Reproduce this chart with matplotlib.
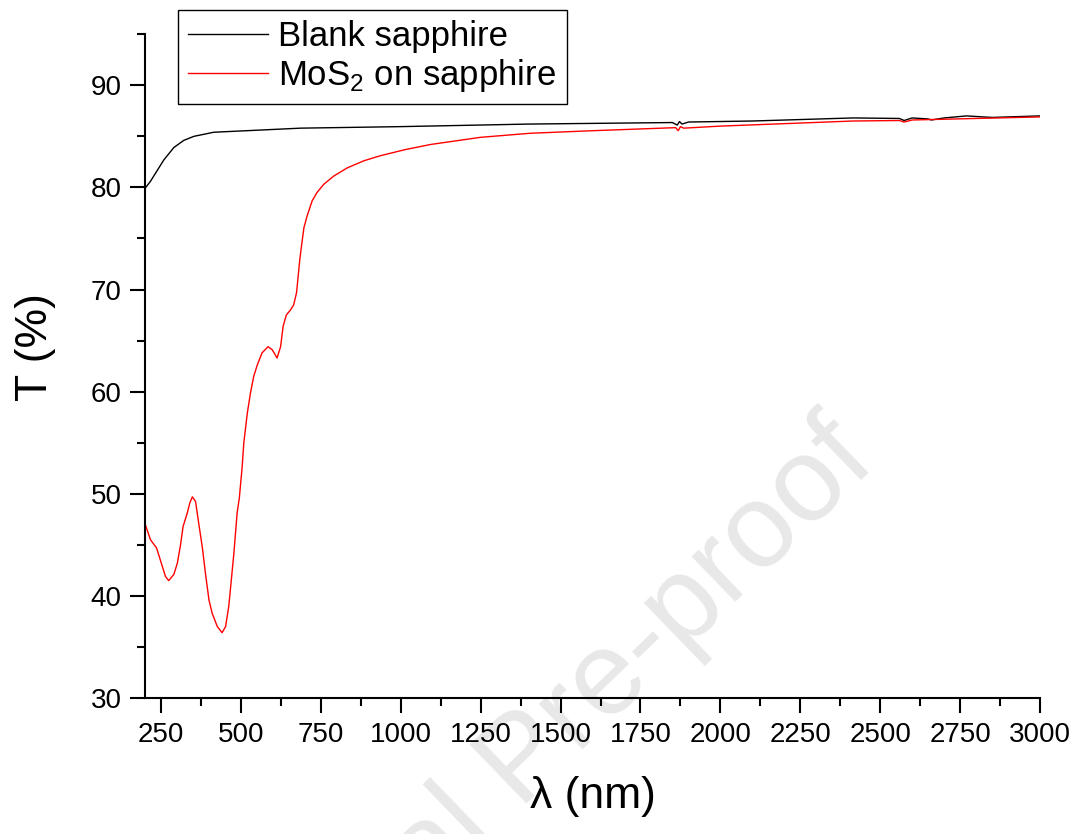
import numpy as np
import matplotlib
matplotlib.use("Agg")
import matplotlib.pyplot as plt
from matplotlib.ticker import MultipleLocator

plt.rcParams['font.family'] = ['Liberation Sans', 'DejaVu Sans']
plt.rcParams['mathtext.fontset'] = 'custom'
plt.rcParams['mathtext.rm'] = 'Liberation Sans'

# data
blank_x = [200, 217, 233, 259, 290, 321, 353, 415, 551, 686, 1000, 1400, 1850,
           1865, 1872, 1880, 1900, 2100, 2415, 2560, 2575, 2600, 2650, 2660,
           2700, 2770, 2850, 3000]
blank_y = [79.9, 80.6, 81.4, 82.7, 83.9, 84.6, 85.0, 85.4, 85.6, 85.8, 85.95,
           86.2, 86.35, 86.1, 86.45, 86.2, 86.4, 86.5, 86.8, 86.75, 86.55, 86.8,
           86.7, 86.6, 86.8, 87.0, 86.85, 87.0]

mos2_x = [201, 217, 236, 248, 264, 274, 290, 301, 311, 319, 332, 340, 348, 358,
          368, 379, 389, 400, 410, 426, 441, 452, 462, 478, 488, 495, 504, 509,
          520, 530, 540, 551, 566, 585, 598, 613, 624, 632, 642, 655, 665, 674,
          679, 684, 688, 697, 707, 723, 738, 759, 790, 832, 884, 936, 1014,
          1093, 1249, 1405, 1600, 1860, 1868, 1875, 1885, 2000, 2415, 2560,
          2575, 2600, 3000]
mos2_y = [46.96, 45.5, 44.7, 43.5, 41.9, 41.5, 42.1, 43.2, 45.0, 46.8, 48.1,
          49.1, 49.7, 49.25, 47.1, 44.8, 42.2, 39.6, 38.3, 37.0, 36.4, 37.0,
          39.0, 44.2, 48.1, 49.6, 52.7, 55.0, 57.9, 59.9, 61.5, 62.6, 63.8, 64.4,
          64.1, 63.3, 64.4, 66.4, 67.5, 68.0, 68.5, 69.7, 71.3, 72.9, 73.9,
          76.05, 77.2, 78.7, 79.5, 80.3, 81.1, 81.9, 82.6, 83.1, 83.7, 84.2,
          84.9, 85.3, 85.55, 85.85, 85.55, 85.95, 85.8, 86.0, 86.5, 86.55, 86.4,
          86.6, 86.9]

fig = plt.figure(figsize=(10.8, 8.34), dpi=100)
ax = fig.add_axes([0.1343, 0.163, 0.8287, 0.796])
ax.set_zorder(1)

# watermark
fig.text(0.486, 0.085, 'Journal Pre-proof', fontsize=86, color='#e8e8e8',
         rotation=44, rotation_mode='anchor', ha='center', va='center', zorder=0)

ax.plot(blank_x, blank_y, color='black', lw=1.0, label='Blank sapphire')
ax.plot(mos2_x, mos2_y, color='red', lw=1.0, label=r'MoS$_\mathregular{2}$ on sapphire')

ax.set_xlim(200, 3000)
ax.set_ylim(30, 95)
ax.xaxis.set_major_locator(MultipleLocator(250))
ax.xaxis.set_minor_locator(MultipleLocator(125))
ax.yaxis.set_major_locator(MultipleLocator(10))
ax.yaxis.set_minor_locator(MultipleLocator(5))
ax.set_xticks(np.arange(250, 3001, 250))

ax.spines['top'].set_visible(False)
ax.spines['right'].set_visible(False)
ax.spines['left'].set_linewidth(1.5)
ax.spines['bottom'].set_linewidth(1.5)
ax.patch.set_alpha(0)

ax.tick_params(which='major', length=11, width=1.5, labelsize=20, pad=6)
ax.tick_params(which='minor', length=5.5, width=1.5)

ax.set_xlabel('λ (nm)', fontsize=32)
ax.set_ylabel('T (%)', fontsize=32)
ax.xaxis.set_label_coords(0.5, -0.118)
ax.yaxis.set_label_coords(-0.1, 0.529)

leg = ax.legend(loc='upper left', bbox_to_anchor=(0.1648, 0.988),
                bbox_transform=fig.transFigure, fontsize=25, frameon=True,
                fancybox=False, framealpha=1, edgecolor='black',
                handlelength=2.3, handletextpad=0.29, labelspacing=0.1,
                borderpad=0.3, borderaxespad=0)
leg.get_frame().set_linewidth(1.0)

fig.savefig('out.png', dpi=100)
